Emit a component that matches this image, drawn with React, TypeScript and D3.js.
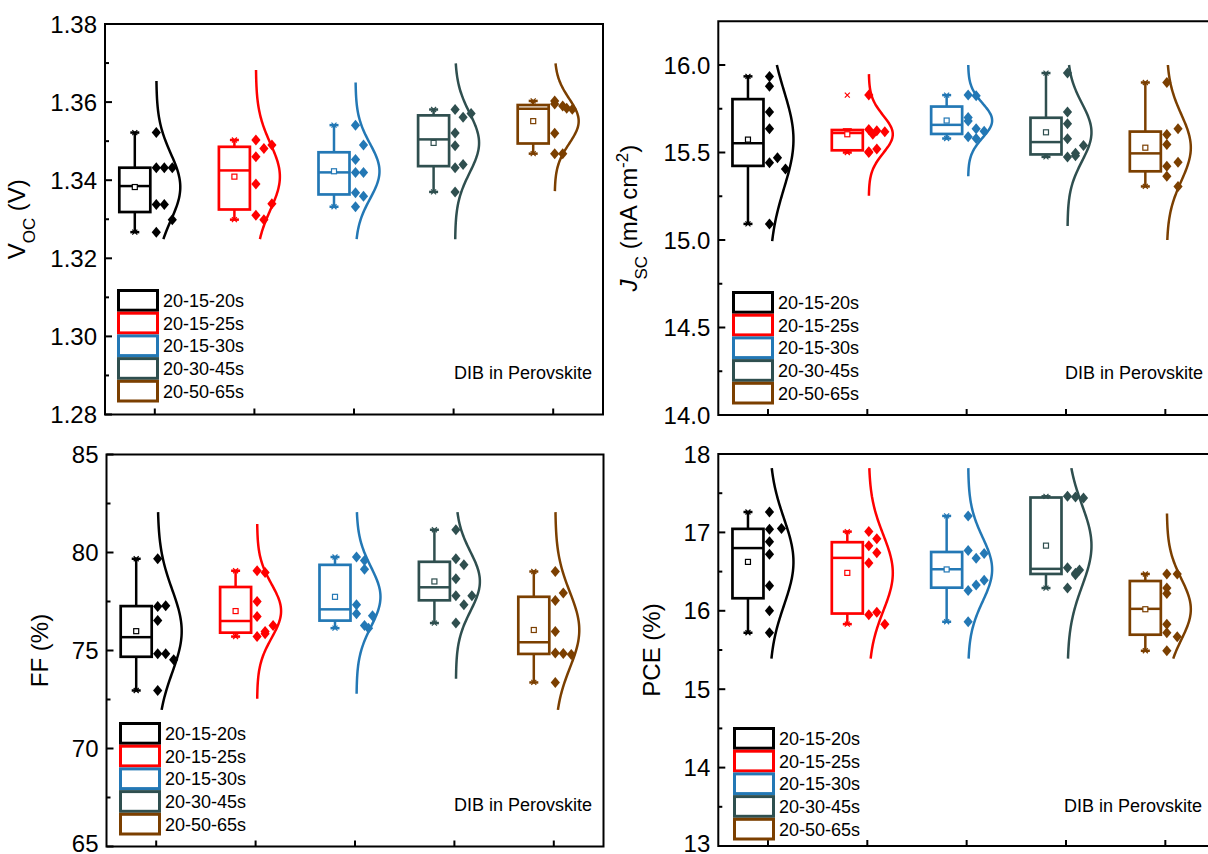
import React from 'react';
import * as d3 from 'd3';

const groups = ['20-15-20s', '20-15-25s', '20-15-30s', '20-30-45s', '20-50-65s'];
const colors = ['#000000', '#ff0000', '#2378b5', '#2f4f4f', '#7b3f00'];

// Voc (V), one row per group
const vocValues = [
	[1.3522, 1.3432, 1.3432, 1.3432, 1.3338, 1.3338, 1.3299, 1.3267],
	[1.3503, 1.349, 1.3481, 1.346, 1.339, 1.334, 1.331, 1.3299],
	[1.3541, 1.349, 1.3453, 1.342, 1.342, 1.3368, 1.3359, 1.3332],
	[1.3581, 1.3571, 1.3561, 1.3521, 1.3488, 1.344, 1.3432, 1.337],
	[1.3603, 1.3595, 1.359, 1.3584, 1.3582, 1.352, 1.3468, 1.3468]
];
const vocJitter = [
	[0, 0, 1, 2, 0, 1, 2, 0],
	[0, 2, 1, 0, 0, 2, 0, 1],
	[0, 1, 0, 0, 1, 0, 1, 0],
	[0, 2, 1, 0, 0, 1, 0, 0],
	[0, 0, 1, 1.5, 2.2, 0, 0, 1]
];
const vocCurve = [[1.3249, 1.3654], [1.3249, 1.3682], [1.3249, 1.365], [1.3249, 1.3699], [1.3372, 1.3699]];

// Jsc (mA cm-2)
const jscValues = [
	[15.935, 15.878, 15.732, 15.636, 15.47, 15.441, 15.406, 15.092],
	[15.828, 15.632, 15.625, 15.618, 15.605, 15.52, 15.505, 15.5],
	[15.828, 15.825, 15.7, 15.68, 15.636, 15.622, 15.59, 15.58],
	[15.954, 15.732, 15.665, 15.579, 15.54, 15.496, 15.482, 15.475],
	[15.9, 15.636, 15.603, 15.546, 15.444, 15.421, 15.364, 15.306]
];
const jscJitter = [
	[0, 0, 0, 0, 1, 0, 2, 0],
	[0, 0, 1, 2, 0.5, 1, 0, 0],
	[0, 1, 0, 0, 1, 2, 0, 1],
	[0, 0, 0, 0, 2, 1, 1, 0],
	[0, 1.4, 0, 0, 1.4, 0, 0, 1.4]
];
const jscCurve = [[14.994, 16.0], [15.253, 15.948], [15.364, 16.0], [15.08, 16.0], [15.0, 16.0]];

// FF (%)
const ffValues = [
	[79.68, 77.28, 77.25, 76.53, 74.83, 74.83, 74.53, 72.96],
	[79.07, 78.98, 77.5, 76.73, 76.28, 75.97, 75.85, 75.71],
	[79.77, 79.59, 79.15, 77.33, 76.87, 76.77, 76.28, 76.14],
	[81.16, 79.68, 79.37, 78.66, 77.79, 77.79, 77.33, 76.4],
	[79.03, 77.93, 77.55, 75.97, 74.87, 74.85, 74.8, 73.37]
];
const ffJitter = [
	[0, 1, 0, 0, 0, 1, 2, 0],
	[0, 1, 0, 0, 2, 1, 1, 0],
	[0, 1, 1, 0, 0, 2, 1, 1.5],
	[0, 0, 1, 0, 0, 2, 1, 0],
	[0, 1, 0, 0, 0, 1, 2, 0]
];
const ffCurve = [[71.97, 82.06], [72.54, 81.45], [72.79, 82.06], [73.56, 82.06], [71.97, 82.06]];

// PCE (%)
const pceValues = [
	[17.26, 17.05, 17.04, 16.88, 16.72, 16.32, 16.0, 15.72],
	[17.01, 16.92, 16.83, 16.74, 16.61, 15.98, 15.95, 15.83],
	[17.21, 16.77, 16.73, 16.67, 16.39, 16.33, 16.26, 15.86],
	[17.46, 17.45, 17.44, 16.55, 16.52, 16.48, 16.46, 16.29],
	[16.47, 16.47, 16.29, 16.22, 15.83, 15.72, 15.67, 15.49]
];
const pceJitter = [
	[0, 1.5, 0, 0, 0, 0, 0, 0],
	[0, 1, 0, 1, 0, 1, 0, 2],
	[0, 0, 2, 1, 2, 1, 0, 0],
	[0, 1, 2, 0, 1.5, 1, 1, 0],
	[0, 1.3, 0, 0, 0, 0, 1.3, 0]
];
const pceCurve = [[15.39, 17.82], [15.39, 17.82], [15.39, 17.82], [15.39, 17.82], [15.39, 17.24]];

const FONT = 'Liberation Sans, Arial, sans-serif';

const panels = [
	{
		values: vocValues, jitter: vocJitter, curve: vocCurve,
		left: 105, right: 603, top: 24, bottom: 414.5,
		domain: [1.28, 1.38], step: 0.02, minor: 0.01, fmt: '.2f',
		titleX: 25, legend: [117, 289], note: [592, 378.5], title: 'voc'
	},
	{
		values: jscValues, jitter: jscJitter, curve: jscCurve,
		left: 718.3, right: 1215, top: 21.25, bottom: 415,
		domain: [14, 16.25], step: 0.5, minor: 0.25, fmt: '.1f',
		titleX: 637, legend: [732, 291], note: [1203, 378.5], title: 'jsc'
	},
	{
		values: ffValues, jitter: ffJitter, curve: ffCurve,
		left: 106.5, right: 603.5, top: 454.5, bottom: 846.5,
		domain: [65, 85], step: 5, minor: 2.5, fmt: 'd',
		titleX: 48, legend: [119, 722], note: [592, 810.5], title: 'ff'
	},
	{
		values: pceValues, jitter: pceJitter, curve: pceCurve,
		left: 718.3, right: 1215, top: 454, bottom: 846,
		domain: [13, 18], step: 1, minor: 0.5, fmt: 'd',
		titleX: 660, legend: [733, 727], note: [1202, 811.5], title: 'pce'
	}
];

function boxStats(vals) {
	const s = [...vals].sort(d3.ascending);
	const n = s.length;
	const half = Math.floor(n / 2);
	const q1 = d3.median(s.slice(0, n % 2 ? half + 1 : half));
	const q3 = d3.median(s.slice(half));
	const med = d3.median(s);
	const iqr = q3 - q1;
	const lo = d3.min(s.filter(v => v >= q1 - 1.5 * iqr));
	const hi = d3.max(s.filter(v => v <= q3 + 1.5 * iqr));
	return { q1, q3, med, lo, hi, min: s[0], max: s[n - 1], mean: d3.mean(s), sd: d3.deviation(s) };
}

function Title({ kind, x, y }) {
	const sub = { fontSize: 17, baselineShift: 'sub' };
	const common = { transform: `translate(${x},${y}) rotate(-90)`, textAnchor: 'middle', fontSize: 24, fontFamily: FONT, fill: '#000' };
	if (kind === 'voc')
		return (
			<text {...common}>
				V<tspan style={sub}>OC</tspan><tspan> (V)</tspan>
			</text>
		);
	if (kind === 'jsc')
		return (
			<text {...common}>
				<tspan fontStyle="italic">J</tspan>
				<tspan style={sub}>SC</tspan>
				<tspan> (mA cm</tspan>
				<tspan style={{ fontSize: 17, baselineShift: 'super' }}>-2</tspan>
				<tspan>)</tspan>
			</text>
		);
	return <text {...common}>{kind === 'ff' ? 'FF (%)' : 'PCE (%)'}</text>;
}

function Panel({ p }) {
	const x = d3.scaleLinear().domain([0.5, 5.5]).range([p.left, p.right]);
	const y = d3.scaleLinear().domain(p.domain).range([p.bottom, p.top]);
	const eps = 1e-9;
	const majors = d3.range(p.domain[0], p.domain[1] + eps, p.step).filter(v => v <= p.domain[1] + eps);
	const minors = d3
		.range(p.domain[0], p.domain[1] - eps, p.minor)
		.filter(v => Math.abs(v / p.step - Math.round(v / p.step)) > 1e-6);
	const fmt = d3.format(p.fmt);
	const line = d3.line().curve(d3.curveBasis);

	return (
		<g>
			{/* groups */}
			{p.values.map((vals, gi) => {
				const c = colors[gi];
				const t = x(gi + 1);
				const st = boxStats(vals);
				const bx = t - 20;
				const bw = 31;
				const [clo, chi] = p.curve[gi];
				const pts = d3.range(0, 81).map(i => {
					const v = clo + ((chi - clo) * i) / 80;
					const dens = Math.exp(-0.5 * ((v - st.mean) / st.sd) ** 2);
					return [t + 1.5 + 24 * dens, y(v)];
				});
				const xm = (v, s) => (
					<path
						d={`M${bx - s},${y(v) - s}L${bx + s},${y(v) + s}M${bx - s},${y(v) + s}L${bx + s},${y(v) - s}`}
						stroke={c}
						strokeWidth={1.2}
					/>
				);
				return (
					<g key={gi}>
						<line x1={bx} x2={bx} y1={y(st.hi)} y2={y(st.q3)} stroke={c} strokeWidth={2.5} />
						<line x1={bx} x2={bx} y1={y(st.lo)} y2={y(st.q1)} stroke={c} strokeWidth={2.5} />
						<line x1={bx - 4.5} x2={bx + 4.5} y1={y(st.hi)} y2={y(st.hi)} stroke={c} strokeWidth={2.5} />
						<line x1={bx - 4.5} x2={bx + 4.5} y1={y(st.lo)} y2={y(st.lo)} stroke={c} strokeWidth={2.5} />
						{xm(st.max, 2.5)}
						{xm(st.min, 2.5)}
						<rect
							x={bx - bw / 2}
							y={y(st.q3)}
							width={bw}
							height={y(st.q1) - y(st.q3)}
							fill="none"
							stroke={c}
							strokeWidth={2.7}
						/>
						<line x1={bx - bw / 2} x2={bx + bw / 2} y1={y(st.med)} y2={y(st.med)} stroke={c} strokeWidth={2.5} />
						<rect x={bx - 2.5} y={y(st.mean) - 2.5} width={5} height={5} fill="#fff" stroke={c} strokeWidth={1.2} />
						<path d={line(pts)} fill="none" stroke={c} strokeWidth={2.5} />
						{vals.map((v, i) => {
							const px = t + 1.5 + p.jitter[gi][i] * 8;
							const py = y(v);
							return <path key={i} d={`M${px},${py - 5.5}L${px + 4.6},${py}L${px},${py + 5.5}L${px - 4.6},${py}Z`} fill={c} />;
						})}
					</g>
				);
			})}

			{/* frame and ticks */}
			<rect x={p.left} y={p.top} width={p.right - p.left} height={p.bottom - p.top} fill="none" stroke="#000" strokeWidth={2} />
			{majors.map(v => (
				<g key={'M' + v}>
					<line x1={p.left} x2={p.left + 7} y1={y(v)} y2={y(v)} stroke="#000" strokeWidth={2} />
					<text x={p.left - 8} y={Math.min(y(v) + 8.5, 852)} textAnchor="end" fontSize={24} fontFamily={FONT} fill="#000">
						{fmt(v)}
					</text>
				</g>
			))}
			{minors.map(v => (
				<line key={'m' + v} x1={p.left} x2={p.left + 4} y1={y(v)} y2={y(v)} stroke="#000" strokeWidth={2} />
			))}
			{d3.range(1, 6).map(k => (
				<line key={'x' + k} x1={x(k)} x2={x(k)} y1={p.bottom} y2={p.bottom - 6} stroke="#000" strokeWidth={2} />
			))}

			<Title kind={p.title} x={p.titleX} y={(p.top + p.bottom) / 2} />

			{/* legend */}
			{groups.map((g, i) => (
				<g key={g}>
					<rect
						x={p.legend[0] + 1.5}
						y={p.legend[1] + 1.5 + i * 22.7}
						width={39}
						height={19.7}
						fill="#fff"
						stroke={colors[i]}
						strokeWidth={3}
					/>
					<text x={p.legend[0] + 46} y={p.legend[1] + 18 + i * 22.7} fontSize={18} fontFamily={FONT} fill="#000">
						{g}
					</text>
				</g>
			))}
			<text x={p.note[0]} y={p.note[1]} textAnchor="end" fontSize={18} fontFamily={FONT} fill="#000">
				DIB in Perovskite
			</text>
		</g>
	);
}

export default function App() {
	return (
		<svg width={1208} height={854} style={{ position: 'absolute', left: 0, top: 0, background: '#fff' }}>
			<rect width={1208} height={854} fill="#fff" />
			{panels.map((p, i) => (
				<Panel key={i} p={p} />
			))}
		</svg>
	);
}
